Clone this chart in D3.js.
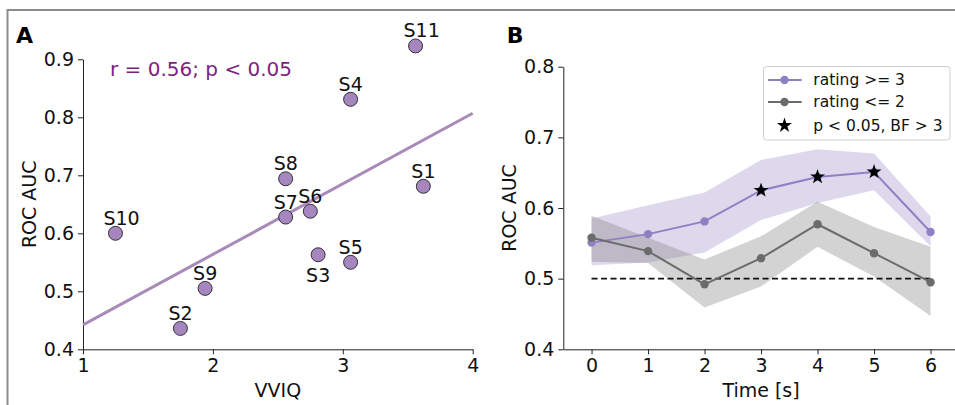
<!DOCTYPE html>
<html lang="en">
<head>
	<meta charset="UTF-8">
	<script type="text/javascript" src="https://d3js.org/d3.v7.min.js"></script>
	<title>VVIQ vs ROC AUC</title>
	<style>
		body{
			margin: 0;
			background: white;
		}
		text{
			font-family: "DejaVu Sans", sans-serif;
		}
		.tick text{
			font-size: 19px;
			fill: #111;
		}
		.tick line, .domain{
			stroke: #222;
		}
		.axlabel{
			font-size: 19px;
			fill: #111;
		}
		.panel{
			font-size: 22px;
			font-weight: bold;
		}
	</style>
</head>
<body>
<script type="text/javascript">
	// panel A data
	const subjects = ["S1", "S2", "S3", "S4", "S5", "S6", "S7", "S8", "S9", "S10", "S11"];
	const vviq = [3.62, 1.75, 2.81, 3.06, 3.06, 2.75, 2.56, 2.56, 1.94, 1.25, 3.56];
	const aucA = [0.681, 0.436, 0.563, 0.831, 0.550, 0.638, 0.628, 0.694, 0.505, 0.600, 0.923];
	const labelBelow = ["S3"];
	const fitX = [1, 4];
	const fitY = [0.442, 0.807];
	const xTicksA = [1, 2, 3, 4];
	const yTicksA = [0.4, 0.5, 0.6, 0.7, 0.8, 0.9];

	// panel B data
	const times = [0, 1, 2, 3, 4, 5, 6];
	const highMean = [0.551, 0.563, 0.581, 0.625, 0.644, 0.651, 0.566];
	const highUpper = [0.585, 0.604, 0.622, 0.668, 0.683, 0.677, 0.588];
	const highLower = [0.519, 0.523, 0.537, 0.583, 0.607, 0.625, 0.546];
	const lowMean = [0.558, 0.539, 0.492, 0.529, 0.577, 0.536, 0.495];
	const lowUpper = [0.589, 0.558, 0.527, 0.560, 0.609, 0.573, 0.545];
	const lowLower = [0.524, 0.522, 0.459, 0.489, 0.545, 0.503, 0.447];
	const significant = [3, 4, 5];
	const chance = 0.5;
	const yTicksB = [0.4, 0.5, 0.6, 0.7, 0.8];
	const legendLabels = ["rating >= 3", "rating <= 2", "p < 0.05, BF > 3"];

	const purple = "#8e80c2",
		gray = "#6b6b6b";

	const svg = d3.select("body")
		.append("svg")
		.attr("width", 955)
		.attr("height", 405);

	// figure frame
	svg.append("rect")
		.attr("x", 7.5)
		.attr("y", 10)
		.attr("width", 1000)
		.attr("height", 500)
		.attr("fill", "none")
		.attr("stroke", "#8c8c8c")
		.attr("stroke-width", 2);

	// ---------- panel A ----------
	let xA = d3.scaleLinear().domain([1, 4]).range([83, 472.7]),
		yA = d3.scaleLinear().domain([0.4, 0.9]).range([349.3, 59.3]);

	let gA = svg.append("g");
	gA.append("g")
		.attr("transform", "translate(0," + yA(0.4) + ")")
		.call(d3.axisBottom(xA).tickValues(xTicksA).tickFormat(d3.format("d"))
			.tickSize(5).tickPadding(4).tickSizeOuter(0));
	gA.append("g")
		.attr("transform", "translate(" + xA(1) + ",0)")
		.call(d3.axisLeft(yA).tickValues(yTicksA).tickFormat(d3.format(".1f"))
			.tickSize(5).tickPadding(4).tickSizeOuter(0));

	gA.append("line")
		.attr("x1", xA(fitX[0]))
		.attr("y1", yA(fitY[0]))
		.attr("x2", xA(fitX[1]))
		.attr("y2", yA(fitY[1]))
		.attr("stroke", "#a98ab8")
		.attr("stroke-width", 3);

	gA.selectAll(".pt")
		.data(subjects)
		.enter()
		.append("circle")
		.attr("class", "pt")
		.attr("cx", function (d, i) { return xA(vviq[i]); })
		.attr("cy", function (d, i) { return yA(aucA[i]); })
		.attr("r", 7)
		.attr("fill", "#a586bf")
		.attr("stroke", "#222")
		.attr("stroke-width", 0.9);

	gA.selectAll(".lab")
		.data(subjects)
		.enter()
		.append("text")
		.attr("class", "axlabel")
		.attr("x", function (d, i) { return xA(vviq[i]) - 12; })
		.attr("y", function (d, i) {
			return yA(aucA[i]) + (labelBelow.indexOf(d) >= 0 ? 27 : -8.5); })
		.text(function (d) { return d; });

	gA.append("text")
		.attr("x", 110)
		.attr("y", 76)
		.style("font-size", "20px")
		.style("fill", "#7f1f80")
		.text("r = 0.56; p < 0.05");

	gA.append("text")
		.attr("class", "axlabel")
		.attr("x", (xA(1) + xA(4)) / 2)
		.attr("y", 396.7)
		.attr("text-anchor", "middle")
		.text("VVIQ");
	gA.append("text")
		.attr("class", "axlabel")
		.attr("transform", "translate(36," + (yA(0.65)) + ") rotate(-90)")
		.attr("text-anchor", "middle")
		.text("ROC AUC");
	gA.append("text")
		.attr("class", "panel")
		.attr("x", 16)
		.attr("y", 43.3)
		.text("A");

	// ---------- panel B ----------
	let xB = d3.scaleLinear().domain([-0.5, 6.5]).range([563.3, 958.8]),
		yB = d3.scaleLinear().domain([0.4, 0.8]).range([349.3, 66.7]);

	let gB = svg.append("g");
	gB.append("g")
		.attr("transform", "translate(0," + yB(0.4) + ")")
		.call(d3.axisBottom(xB).tickValues(times).tickFormat(d3.format("d"))
			.tickSize(5).tickPadding(4).tickSizeOuter(0));
	gB.append("g")
		.attr("transform", "translate(" + xB(-0.5) + ",0)")
		.call(d3.axisLeft(yB).tickValues(yTicksB).tickFormat(d3.format(".1f"))
			.tickSize(5).tickPadding(4).tickSizeOuter(0));

	const band = function (upper, lower) {
		return d3.area()
			.x(function (d, i) { return xB(times[i]); })
			.y0(function (d, i) { return yB(lower[i]); })
			.y1(function (d, i) { return yB(upper[i]); })(times);
	};
	const line = function (vals) {
		return d3.line()
			.x(function (d, i) { return xB(times[i]); })
			.y(function (d, i) { return yB(vals[i]); })(times);
	};

	gB.append("path")
		.attr("d", band(highUpper, highLower))
		.attr("fill", "#a08fcc")
		.attr("fill-opacity", 0.35);
	gB.append("path")
		.attr("d", band(lowUpper, lowLower))
		.attr("fill", "#7a7a7a")
		.attr("fill-opacity", 0.33);

	gB.append("line")
		.attr("x1", xB(times[0]))
		.attr("x2", xB(times[times.length - 1]))
		.attr("y1", yB(chance))
		.attr("y2", yB(chance))
		.attr("stroke", "#111")
		.attr("stroke-width", 1.6)
		.attr("stroke-dasharray", "6,3.5");

	[[highMean, purple], [lowMean, gray]].forEach(function (s) {
		gB.append("path")
			.attr("d", line(s[0]))
			.attr("fill", "none")
			.attr("stroke", s[1])
			.attr("stroke-width", 2);
		gB.selectAll(null)
			.data(s[0])
			.enter()
			.append("circle")
			.attr("cx", function (d, i) { return xB(times[i]); })
			.attr("cy", function (d) { return yB(d); })
			.attr("r", 4.2)
			.attr("fill", s[1]);
	});

	const star = d3.symbol().type(d3.symbolStar).size(70);
	gB.selectAll(".star")
		.data(significant)
		.enter()
		.append("path")
		.attr("class", "star")
		.attr("d", star)
		.attr("transform", function (t) {
			return "translate(" + xB(t) + "," + yB(highMean[times.indexOf(t)]) + ")"; })
		.attr("fill", "black");

	// legend
	let leg = gB.append("g");
	leg.append("rect")
		.attr("x", 763.5)
		.attr("y", 66.5)
		.attr("width", 186.5)
		.attr("height", 73.5)
		.attr("rx", 3)
		.attr("fill", "white")
		.attr("fill-opacity", 0.85)
		.attr("stroke", "#d0d0d0");
	const rowY = [80, 102, 125.5];
	legendLabels.forEach(function (lab, i) {
		if (i < 2) {
			let c = i === 0 ? purple : gray;
			leg.append("line")
				.attr("x1", 768).attr("x2", 801.7)
				.attr("y1", rowY[i]).attr("y2", rowY[i])
				.attr("stroke", c).attr("stroke-width", 2);
			leg.append("circle")
				.attr("cx", 784.5).attr("cy", rowY[i])
				.attr("r", 4.2).attr("fill", c);
		} else {
			leg.append("path")
				.attr("d", star)
				.attr("transform", "translate(784.5," + rowY[i] + ")")
				.attr("fill", "black");
		}
		leg.append("text")
			.attr("x", 813.3)
			.attr("y", rowY[i])
			.attr("dy", "0.35em")
			.style("font-size", "15.5px")
			.style("fill", "#111")
			.text(lab);
	});

	gB.append("text")
		.attr("class", "axlabel")
		.attr("x", (xB(-0.5) + xB(6.5)) / 2)
		.attr("y", 396.7)
		.attr("text-anchor", "middle")
		.text("Time [s]");
	gB.append("text")
		.attr("class", "axlabel")
		.attr("transform", "translate(516," + yB(0.6) + ") rotate(-90)")
		.attr("text-anchor", "middle")
		.text("ROC AUC");
	gB.append("text")
		.attr("class", "panel")
		.attr("x", 506.7)
		.attr("y", 43.3)
		.text("B");
</script>

</body>
</html>
